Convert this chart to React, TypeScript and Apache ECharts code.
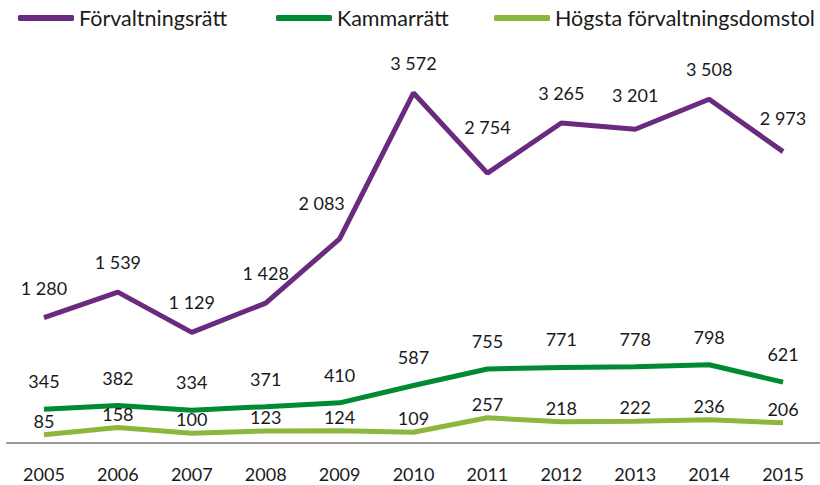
import React, { useEffect, useRef } from "react";
import * as echarts from "echarts";

const years = ["2005", "2006", "2007", "2008", "2009", "2010", "2011", "2012", "2013", "2014", "2015"];
const forvaltningsratt = [1280, 1539, 1129, 1428, 2083, 3572, 2754, 3265, 3201, 3508, 2973];
const kammarratt = [345, 382, 334, 371, 410, 587, 755, 771, 778, 798, 621];
const hogsta = [85, 158, 100, 123, 124, 109, 257, 218, 222, 236, 206];
const seriesNames = ["Förvaltningsrätt", "Kammarrätt", "Högsta förvaltningsdomstol"];

const FONT = "Lato, 'Open Sans', sans-serif";

const fmt = (v: number) => {
  const s = String(v);
  return s.length > 3 ? s.slice(0, s.length - 3) + " " + s.slice(-3) : s;
};

export default function App() {
  const ref = useRef<HTMLDivElement>(null);
  useEffect(() => {
    const chart = echarts.init(ref.current!, undefined, { renderer: "svg" });
    const labelOffsets: Record<number, number[]> = { 4: [-18, -6], 6: [0, -16], 8: [0, -4], 10: [0, -4] };
    const mk = (name: string, data: any[], color: string, dist: number) => ({
      name,
      type: "line",
      data,
      symbol: "circle",
      symbolSize: 0,
      showSymbol: true,
      lineStyle: { color, width: 5 },
      itemStyle: { color },
      label: {
        show: true,
        position: "top",
        distance: dist,
        color: "#1a1a1a",
        fontSize: 18,
        fontFamily: FONT,
        formatter: (p: any) => fmt(p.value),
      },
    });
    const legendLefts = [18, 276, 494];
    chart.setOption({
      animation: false,
      textStyle: { fontFamily: FONT },
      legend: seriesNames.map((n, i) => ({
        top: 7,
        left: legendLefts[i],
        padding: 0,
        itemWidth: 56,
        itemHeight: 6,
        icon: "roundRect",
        textStyle: { fontSize: 21.5, color: "#1a1a1a", fontFamily: FONT },
        data: [n],
      })),
      grid: { left: 7, right: 0, top: 51, bottom: 42 },
      xAxis: {
        type: "category",
        data: years,
        boundaryGap: true,
        axisLine: { lineStyle: { color: "#999", width: 2 } },
        axisTick: { show: false },
        axisLabel: { fontSize: 18, color: "#1a1a1a", margin: 22, fontFamily: FONT },
      },
      yAxis: {
        type: "value",
        min: 0,
        max: 4000,
        show: false,
        splitLine: { show: false },
      },
      series: [
        mk(
          seriesNames[0],
          forvaltningsratt.map((v, i) => (labelOffsets[i] ? { value: v, label: { offset: labelOffsets[i] } } : v)),
          "#6a2b7f",
          21
        ),
        mk(seriesNames[1], kammarratt, "#008a32", 19),
        mk(seriesNames[2], hogsta, "#8db63c", 5),
      ],
    });
    return () => chart.dispose();
  }, []);
  return <div ref={ref} style={{ position: "absolute", left: 0, top: 0, width: 820, height: 485 }} />;
}
